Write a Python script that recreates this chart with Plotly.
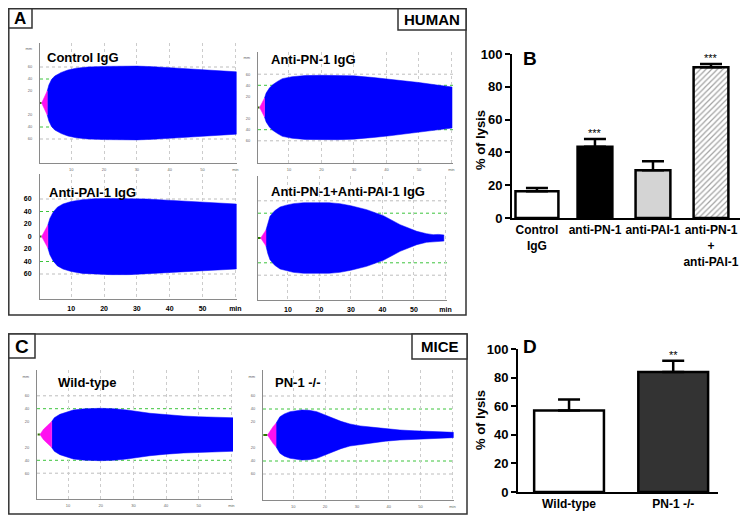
import plotly.graph_objects as go

# The page body adds an 8 px offset, so the figure is 740x512 and
# reference pixel positions are shifted by OFF.
W, H = 740, 512
OFF = 8


def fx(p):
    return (p - OFF) / W


def fy(p):
    return 1 - (p - OFF) / H


def dx(a, b):
    return [fx(a), fx(b)]


def dy(top, bot):
    return [fy(bot), fy(top)]


# ---------------- Data: clot amplitude envelopes (mm) vs time (min) ----------------
ctrl_base_t = [0.5, 1.0]
ctrl_pink_t = [1.0, 1.8, 2.7]
ctrl_pink_a = [0, 9, 20]
ctrl_blue_t = [2.7, 3.2, 4, 5, 7, 9, 11.5, 15, 20, 25, 30, 35, 40, 45, 50, 55, 60.3]
ctrl_blue_a = [20, 30, 39, 45, 51, 55, 58, 60, 61, 61.5, 61.5, 60.5, 59, 57.5, 56, 54, 52]

pn1_base_t = [0.5, 1.0]
pn1_pink_t = [1.0, 1.7, 2.5]
pn1_pink_a = [0, 8, 17]
pn1_blue_t = [2.5, 3, 4, 5, 6.5, 8, 11, 15, 20, 25, 30, 36, 41, 46, 50, 55, 60.2]
pn1_blue_a = [17, 26, 35, 41, 47, 52, 55.5, 57.5, 58, 58, 57, 54, 51, 47.6, 45, 41, 37]

pai1_base_t = [0.5, 1.0]
pai1_pink_t = [1.0, 2.0, 2.9]
pai1_pink_a = [0, 9, 18.5]
pai1_blue_t = [2.9, 3.5, 4.5, 5.8, 7.5, 10, 13.4, 17, 22, 27.6, 33, 38, 44, 50, 55, 60.3]
pai1_blue_a = [18.5, 29, 39, 47, 52, 56, 59, 60.5, 61, 61, 60, 58.5, 57, 55, 53.5, 52]

both_base_t = [0.5, 1.36]
both_pink_t = [1.36, 2.2, 3.04]
both_pink_a = [0, 6, 13]
both_blue_t = [3.04, 3.6, 4.3, 5.8, 7.5, 9.5, 11.7, 15, 19.1, 23, 26.5, 30, 35, 40.3, 45.6, 50.9, 54, 56.1, 57.8, 59.5]
both_blue_a = [13, 25, 35, 44, 50, 53, 55.4, 57, 57.5, 57, 55.4, 52, 45.7, 36, 21.5, 10.8, 7, 5.4, 5.8, 5.0]

wt_base_t = [0.7, 1.4]
wt_pink_t = [1.4, 2.5, 3.7, 5.0]
wt_pink_a = [0, 8, 14, 20]
wt_blue_t = [5.0, 5.8, 7.5, 9.5, 11.6, 15, 19.8, 24, 28, 35.1, 40, 45.3, 50, 55, 60.6]
wt_blue_a = [20, 26, 31.3, 35, 38, 39.8, 40.6, 40, 38, 32.9, 30.5, 28.7, 27.5, 26.7, 26]

ko_base_t = [0.6, 1.9]
ko_pink_t = [1.9, 2.8, 3.7, 4.6]
ko_pink_a = [0, 7, 13, 18]
ko_blue_t = [4.6, 5.0, 5.8, 7.2, 9, 12.7, 15, 17.4, 20, 22.6, 25, 27.8, 31, 35.2, 39, 43.5, 48, 52, 56, 60.3]
ko_blue_a = [18, 22, 28, 32.5, 35.9, 38.5, 38, 35.9, 31, 25.6, 21, 17, 14, 11.8, 9.5, 7.7, 6.5, 5.5, 4.8, 4.1]

panel_titles = ["Control IgG", "Anti-PN-1 IgG", "Anti-PAI-1 IgG",
                "Anti-PN-1+Anti-PAI-1 IgG", "Wild-type", "PN-1 -/-"]

time_ticks = [10, 20, 30, 40, 50, 60]
time_ticktext = ["10", "20", "30", "40", "50", "min"]
amp_ticks_small = [-60, -40, -20, 20, 40, 60, 90]
amp_ticktext_small = ["60", "40", "20", "20", "40", "60", "mm"]
amp_ticks_big = [-60, -40, -20, 0, 20, 40, 60]
amp_ticktext_big = ["60", "40", "20", "0", "20", "40", "60"]

# ---------------- Data: bar charts ----------------
b_categories = ["Control<br>IgG", "anti-PN-1", "anti-PAI-1", "anti-PN-1<br>+<br>anti-PAI-1"]
b_values = [16.3, 43.4, 29.1, 91.9]
b_errors = [2.0, 4.7, 5.5, 2.0]
b_sig = ["", "***", "", "***"]

d_categories = ["Wild-type", "PN-1 -/-"]
d_values = [57.0, 84.0]
d_errors = [7.6, 7.8]
d_sig = ["", "**"]

FONT = "Liberation Sans, Arial, sans-serif"
BLUE = "#0000ff"
PINK = "#ff10f0"

fig = go.Figure()


def envelope(t, a):
    xs = list(t) + list(t)[::-1]
    ys = list(a) + [-v for v in list(a)[::-1]]
    return xs, ys


curves = [
    (ctrl_base_t, ctrl_pink_t, ctrl_pink_a, ctrl_blue_t, ctrl_blue_a),
    (pn1_base_t, pn1_pink_t, pn1_pink_a, pn1_blue_t, pn1_blue_a),
    (pai1_base_t, pai1_pink_t, pai1_pink_a, pai1_blue_t, pai1_blue_a),
    (both_base_t, both_pink_t, both_pink_a, both_blue_t, both_blue_a),
    (wt_base_t, wt_pink_t, wt_pink_a, wt_blue_t, wt_blue_a),
    (ko_base_t, ko_pink_t, ko_pink_a, ko_blue_t, ko_blue_a),
]

# layout geometry (reference pixels): x-domain, y-domain (top,bottom)
geo = [
    ((40, 237), (43, 163)),
    ((258, 453), (52, 163)),
    ((40, 237), (174, 299)),
    ((258, 447), (176, 300)),
    ((37, 233), (370, 499)),
    ((263, 454), (370, 500)),
]
title_pos = [(45, 57), (269, 59), (47, 192), (269, 191), (56, 382), (273, 382)]

layout = dict(
    width=W, height=H, margin=dict(l=0, r=0, t=0, b=0, pad=0, autoexpand=False),
    paper_bgcolor="white", plot_bgcolor="white", showlegend=False,
    font=dict(family=FONT, color="black"), template="none",
)
shapes = []
annotations = []

for i, (base_t, pt, pa, bt, ba) in enumerate(curves):
    k = i + 1
    xa = "x" if k == 1 else f"x{k}"
    ya = "y" if k == 1 else f"y{k}"
    fig.add_trace(go.Scatter(x=base_t, y=[0] * len(base_t), mode="lines",
                             line=dict(color="#2e7a00", width=2), xaxis=xa, yaxis=ya,
                             hoverinfo="skip"))
    xs, ys = envelope(bt, ba)
    fig.add_trace(go.Scatter(x=xs, y=ys, fill="toself", fillcolor=BLUE, mode="lines",
                             line=dict(width=0.5, color=BLUE), xaxis=xa, yaxis=ya,
                             hoverinfo="skip"))
    xs, ys = envelope(pt, pa)
    fig.add_trace(go.Scatter(x=xs, y=ys, fill="toself", fillcolor=PINK, mode="lines",
                             line=dict(width=0.5, color=PINK), xaxis=xa, yaxis=ya,
                             hoverinfo="skip"))

    (xa0, xa1), (yt, yb) = geo[i]
    big = k in (3, 4)
    xtf = dict(size=7, color="black", family=FONT, weight="bold") if big else dict(size=4, color="#666", family=FONT)
    layout["xaxis" if k == 1 else f"xaxis{k}"] = dict(
        domain=dx(xa0, xa1), range=[0.5, 60.5], anchor=ya, automargin=False,
        tickvals=time_ticks, ticktext=time_ticktext, tickfont=xtf,
        ticks="outside", ticklen=3 if big else 2, tickcolor="rgba(0,0,0,0)",
        showgrid=True, gridcolor="#cccccc", griddash="dot", gridwidth=1,
        showline=True, linecolor="#8a8a8a", linewidth=1, zeroline=False, fixedrange=True,
    )
    if k == 3:
        ytv, ytt = amp_ticks_big, amp_ticktext_big
        ytf = dict(size=7, color="black", family=FONT, weight="bold")
        show = True
    elif k == 4:
        ytv, ytt, ytf, show = [], [], dict(size=4), False
    else:
        ytv, ytt = amp_ticks_small, amp_ticktext_small
        ytf = dict(size=4, color="#666", family=FONT)
        show = True
    layout["yaxis" if k == 1 else f"yaxis{k}"] = dict(
        domain=dy(yt, yb), range=[-100, 100], anchor=xa, automargin=False,
        tickvals=ytv, ticktext=ytt, tickfont=ytf, showticklabels=show,
        ticks="outside", ticklen=6, tickcolor="rgba(0,0,0,0)",
        showgrid=False, showline=True, linecolor="#8a8a8a", linewidth=1,
        zeroline=False, fixedrange=True,
    )
    for v, c in ((60, "#bdbdbd"), (-60, "#bdbdbd"), (40, "#3cc43c"), (-40, "#3cc43c")):
        shapes.append(dict(type="line", xref=f"{xa} domain", yref=ya, x0=0, x1=1, y0=v, y1=v,
                           line=dict(color=c, width=1, dash="dot"), layer="below"))
    tx, ty = title_pos[i]
    annotations.append(dict(text=panel_titles[i], x=fx(tx), y=fy(ty), xref="paper", yref="paper",
                            xanchor="left", yanchor="middle", showarrow=False,
                            font=dict(size=13, family=FONT, weight="bold", color="black")))

# ---------------- Bar chart B ----------------
fig.add_trace(go.Bar(
    x=list(range(len(b_values))), y=b_values, width=[0.74, 0.6, 0.6, 0.6],
    marker=dict(color=["white", "black", "#d4d4d4", "white"],
                line=dict(color="black", width=2.5),
                pattern=dict(shape=["", "", "", "/"], fgcolor="#8c8c8c", size=4,
                             solidity=0.3, fillmode="overlay")),
    error_y=dict(type="data", symmetric=False, array=b_errors, arrayminus=[0] * len(b_errors),
                 color="black", thickness=2.5, width=11),
    xaxis="x7", yaxis="y7", hoverinfo="skip"))

layout["xaxis7"] = dict(domain=dx(512, 740), range=[-0.43, 3.5], anchor="y7", automargin=False,
                        tickvals=list(range(len(b_categories))), ticktext=b_categories,
                        tickfont=dict(size=12, family=FONT, weight="bold", color="black"),
                        ticks="", showline=True, linecolor="black", linewidth=2,
                        showgrid=False, zeroline=False, fixedrange=True)
layout["yaxis7"] = dict(domain=dy(54, 218), range=[0, 100], anchor="x7", automargin=False,
                        tickvals=[0, 20, 40, 60, 80, 100],
                        tickfont=dict(size=13, family=FONT, weight="bold", color="black"),
                        ticks="outside", ticklen=5, tickwidth=2, tickcolor="black",
                        showline=True, linecolor="black", linewidth=2,
                        showgrid=False, zeroline=False, fixedrange=True)
for i, s in enumerate(b_sig):
    if s:
        annotations.append(dict(text=s, x=i, y=b_values[i] + b_errors[i], xref="x7", yref="y7",
                                yanchor="bottom", yshift=-2, showarrow=False,
                                font=dict(size=11, family=FONT, color="black")))

# ---------------- Bar chart D ----------------
fig.add_trace(go.Bar(
    x=list(range(len(d_values))), y=d_values, width=[0.67, 0.67],
    marker=dict(color=["white", "#333333"], line=dict(color="black", width=2.5)),
    error_y=dict(type="data", symmetric=False, array=d_errors, arrayminus=[0] * len(d_errors),
                 color="black", thickness=2.5, width=11),
    xaxis="x8", yaxis="y8", hoverinfo="skip"))
layout["xaxis8"] = dict(domain=dx(518, 718), range=[-0.49, 1.43], anchor="y8", automargin=False,
                        tickvals=list(range(len(d_categories))), ticktext=d_categories,
                        tickfont=dict(size=12, family=FONT, weight="bold", color="black"),
                        ticks="", showline=True, linecolor="black", linewidth=2,
                        showgrid=False, zeroline=False, fixedrange=True)
layout["yaxis8"] = dict(domain=dy(349, 492), range=[0, 100], anchor="x8", automargin=False,
                        tickvals=[0, 20, 40, 60, 80, 100],
                        tickfont=dict(size=13, family=FONT, weight="bold", color="black"),
                        ticks="outside", ticklen=5, tickwidth=2, tickcolor="black",
                        showline=True, linecolor="black", linewidth=2,
                        showgrid=False, zeroline=False, fixedrange=True)
for i, s in enumerate(d_sig):
    if s:
        annotations.append(dict(text=s, x=i, y=d_values[i] + d_errors[i], xref="x8", yref="y8",
                                yanchor="bottom", yshift=-2, showarrow=False,
                                font=dict(size=11, family=FONT, color="black")))

# axis titles and panel letters
for yc in (140, 420):
    annotations.append(dict(text="% of lysis", x=fx(480), y=fy(yc), xref="paper", yref="paper",
                            textangle=-90, showarrow=False, xanchor="center", yanchor="middle",
                            font=dict(size=13, family=FONT, weight="bold", color="black")))
for txt, cx, cy, sz in (("B", 530, 58, 19), ("D", 530, 346, 19)):
    annotations.append(dict(text=txt, x=fx(cx), y=fy(cy), xref="paper", yref="paper",
                            showarrow=False, xanchor="center", yanchor="middle",
                            font=dict(size=sz, family=FONT, weight="bold", color="black")))

# panel frames and label boxes (edges that fall left/above the page offset are kept just inside)
BOX = dict(color="#333333", width=1.5)
for (x0, y0, x1, y1) in ((8.8, 8.8, 466, 315), (8.8, 334, 467, 514)):
    shapes.append(dict(type="rect", xref="paper", yref="paper", x0=fx(x0), x1=fx(x1),
                       y0=fy(y1), y1=fy(y0), line=BOX, fillcolor="rgba(0,0,0,0)", layer="above"))
for (txt, x0, y0, x1, y1, sz, cx, cy) in (("A", 8.8, 8.8, 32, 28, 17, 20.4, 18.6),
                                          ("HUMAN", 398, 8.8, 466, 30, 15, 432, 19.4),
                                          ("C", 8.8, 334, 35, 358, 19, 21.5, 346),
                                          ("MICE", 412, 334, 467, 359, 15, 439.5, 346.5)):
    shapes.append(dict(type="rect", xref="paper", yref="paper", x0=fx(x0), x1=fx(x1),
                       y0=fy(y1), y1=fy(y0), line=BOX, fillcolor="white", layer="above"))
    annotations.append(dict(text=txt, x=fx(cx), y=fy(cy), xref="paper",
                            yref="paper", showarrow=False, xanchor="center", yanchor="middle",
                            borderpad=0,
                            font=dict(size=sz, family=FONT, weight="bold", color="black")))

layout["shapes"] = shapes
layout["annotations"] = annotations
fig.update_layout(**layout)
fig.write_html("out.html")
